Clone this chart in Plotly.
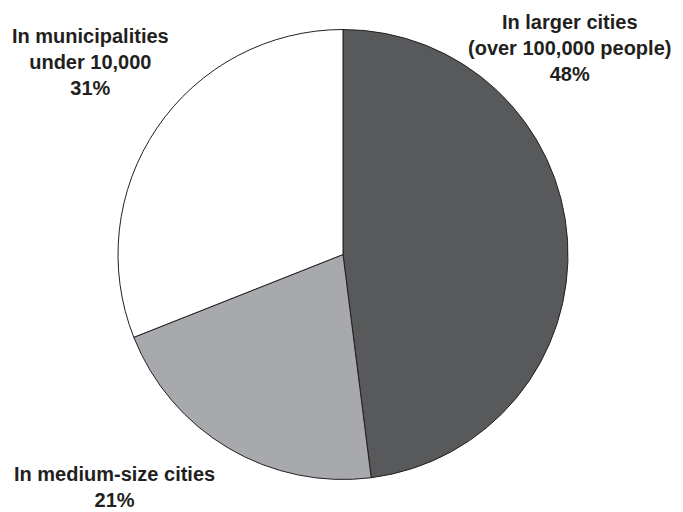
import plotly.graph_objects as go

categories = ["In larger cities<br>(over 100,000 people)", "In medium-size cities", "In municipalities<br>under 10,000"]
values = [48, 21, 31]
colors = ["#58595b", "#a7a9ac", "#ffffff"]

W, H = 683, 512

fig = go.Figure(go.Pie(
    labels=categories,
    values=values,
    sort=False,
    direction="clockwise",
    rotation=0,
    marker=dict(colors=colors, line=dict(color="#231f20", width=1)),
    textinfo="none",
    hoverinfo="skip",
    showlegend=False,
    domain=dict(x=[118 / W, 568 / W], y=[1 - 480 / H, 1 - 29 / H]),
))

label_pos = [(569, 48), (114, 487), (90, 62)]
for cat, v, (x, y) in zip(categories, values, label_pos):
    lines = (cat + "<br>" + f"{v}%").split("<br>")
    fig.add_annotation(
        x=x / W, y=1 - y / H, xref="paper", yref="paper",
        text="<br>".join(f"<b>{l}</b>" for l in lines),
        showarrow=False, align="center",
        xanchor="center", yanchor="middle",
        font=dict(family="Liberation Sans, Arial, sans-serif", size=20, color="#231f20"),
    )

fig.update_layout(
    width=W, height=H,
    margin=dict(l=0, r=0, t=0, b=0),
    paper_bgcolor="white", plot_bgcolor="white",
)

fig.write_html("out.html")
